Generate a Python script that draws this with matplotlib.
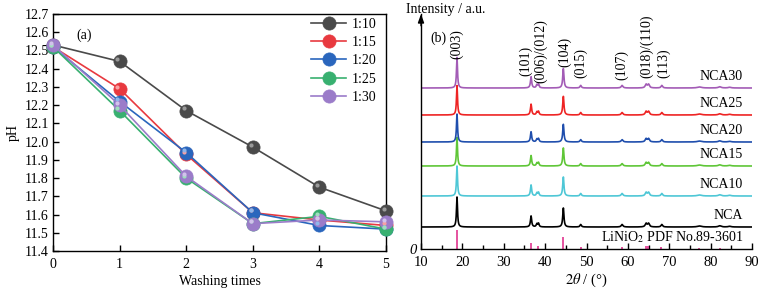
import numpy as np
import matplotlib
matplotlib.use("Agg")
import matplotlib.pyplot as plt
from matplotlib.transforms import ScaledTranslation

plt.rcParams['font.family'] = ['Liberation Serif', 'DejaVu Serif']
plt.rcParams['mathtext.fontset'] = 'stix'

# ---------------- data: panel (a) ----------------
washing_times = [0, 1, 2, 3, 4, 5]
ratio_labels = ['1:10', '1:15', '1:20', '1:25', '1:30']
ph_1_10 = [12.53, 12.44, 12.17, 11.97, 11.75, 11.62]
ph_1_15 = [12.52, 12.29, 11.93, 11.61, 11.57, 11.54]
ph_1_20 = [12.52, 12.22, 11.94, 11.61, 11.54, 11.52]
ph_1_25 = [12.52, 12.17, 11.80, 11.55, 11.59, 11.52]
ph_1_30 = [12.53, 12.20, 11.81, 11.55, 11.57, 11.56]
ratio_colors = ['#4a4a4a', '#e8393f', '#2a66bd', '#38b070', '#9b7cc9']
ratio_light = ['#9a9a9a', '#f8a0a2', '#8fb6ea', '#9de0bc', '#d2c2ec']

# ---------------- data: panel (b) ----------------
sample_names = ['NCA', 'NCA10', 'NCA15', 'NCA20', 'NCA25', 'NCA30']
sample_offsets = [22, 53, 83, 107, 134, 161]
sample_scale = [1.0, 1.0, 0.95, 0.93, 0.98, 1.02]
sample_colors = ['#000000', '#4ec7d6', '#5fc637', '#1f4ead', '#ee2424', '#a35cb6']
peak_pos = [18.7, 36.6, 38.0, 38.4, 44.4, 48.6, 58.6, 64.4, 65.0, 68.2, 77.3, 82.2, 84.6]
peak_height = [30, 11, 3, 3.5, 19, 2.5, 2.5, 3.5, 3.5, 2.5, 1.0, 1.2, 0.7]
peak_fwhm = [0.3, 0.35, 0.35, 0.35, 0.35, 0.4, 0.5, 0.5, 0.5, 0.45, 1.2, 0.8, 0.8]
ref_pos = [18.7, 36.6, 38.2, 44.4, 48.6, 58.6, 64.4, 64.8, 68.0, 77.3, 82.2]
ref_height = [19, 6, 3, 12, 2, 2, 3, 3, 2, 1, 1.5]
hkl_labels = ['(003)', '(101)', '(006)/(012)', '(104)', '(015)', '(107)', '(018)/(110)', '(113)']
hkl_x = [18.7, 35.4, 39.0, 44.6, 48.7, 58.6, 64.6, 68.7]
hkl_y = [190, 173, 166, 182, 171, 169, 171, 171]

FS = 9.5
FT = 10.5
W, H = 768, 290
fig = plt.figure(figsize=(W / 100, H / 100), dpi=100)

# ================= panel (a) =================
ax1 = fig.add_axes([53 / W, (H - 251) / H, (386 - 53) / W, (251 - 14) / H])
series = [ph_1_10, ph_1_15, ph_1_20, ph_1_25, ph_1_30]
hl = ax1.transData + ScaledTranslation(-1.6 / 72, 1.6 / 72, fig.dpi_scale_trans)
for vals, lab, c, lc in zip(series, ratio_labels, ratio_colors, ratio_light):
    ax1.plot(washing_times, vals, '-', color=c, lw=1.2, marker='o', ms=9.5,
             mfc=c, mec=c, mew=0.5, label=lab, clip_on=False, zorder=3)
    ax1.plot(washing_times, vals, 'o', ms=3, mfc=lc, mec='none',
             transform=hl, clip_on=False, zorder=4)
ax1.set_xlim(0, 5)
ax1.set_ylim(11.4, 12.7)
ax1.set_xticks(washing_times)
ax1.set_yticks(np.arange(11.4, 12.71, 0.1))
ax1.set_yticklabels([f'{v:.1f}' for v in np.arange(11.4, 12.71, 0.1)])
ax1.tick_params(direction='in', length=4, width=1, labelsize=10)
ax1.tick_params(axis='x', pad=5)
ax1.tick_params(axis='y', pad=3)
for s in ax1.spines.values():
    s.set_linewidth(1.0)
ax1.set_xlabel('Washing times', fontsize=10, labelpad=3)
ax1.set_ylabel('pH', fontsize=10, labelpad=3)
ax1.text(0.07, 0.895, '(a)', transform=ax1.transAxes, fontsize=10)
leg = ax1.legend(loc='upper right', bbox_to_anchor=(1.0, 1.025), frameon=False,
                 fontsize=10, handlelength=2.5, labelspacing=0.38,
                 handletextpad=0.4, borderaxespad=0.3)

# ================= panel (b) =================
ax2 = fig.add_axes([421 / W, (H - 249) / H, (752 - 421) / W, (249 - 14) / H])
x = np.arange(10, 90.001, 0.02)
for name, off, sc, col in zip(sample_names, sample_offsets, sample_scale, sample_colors):
    y = np.full_like(x, float(off))
    for p, h, w in zip(peak_pos, peak_height, peak_fwhm):
        g = (w / 2) ** 2
        y += sc * h * g / ((x - p) ** 2 + g)
    ax2.plot(x, y, color=col, lw=1.2)
    ax2.text(87.8, off + 5, name, ha='right', va='bottom', fontsize=FS + 0.5)
ax2.vlines(ref_pos, 0, ref_height, color='#e0358f', lw=1.2)
ax2.text(87.8, 4, 'LiNiO$_2$ PDF No.89-3601', ha='right', va='bottom', fontsize=FS + 0.5)
for lab, hx, hy in zip(hkl_labels, hkl_x, hkl_y):
    ax2.text(hx, hy, lab, rotation=90, ha='center', va='bottom', fontsize=FS + 0.5)
ax2.set_xlim(10, 90)
ax2.set_ylim(0, 235)
ax2.spines['top'].set_visible(False)
ax2.spines['right'].set_visible(False)
ax2.spines['left'].set_linewidth(1.0)
ax2.spines['bottom'].set_linewidth(1.0)
ax2.set_xticks(np.arange(10, 91, 10))
ax2.set_xticks(np.arange(15, 90, 10), minor=True)
ax2.tick_params(axis='x', which='both', direction='in', width=1, labelsize=FT, pad=5)
ax2.tick_params(axis='x', which='major', length=4)
ax2.tick_params(axis='x', which='minor', length=3)
ax2.set_yticks([0])
ax2.set_yticklabels(['0'], fontstyle='italic', fontsize=FT)
ax2.tick_params(axis='y', length=0, pad=3)
ax2.set_xlabel(r'$2\theta$ / (°)', fontsize=FT, labelpad=2)
ax2.annotate('', xy=(0, 1.0), xycoords='axes fraction', xytext=(0, 0.95),
             arrowprops=dict(arrowstyle='-|>,head_length=0.5,head_width=0.18',
                             color='black', lw=1.0, shrinkA=0, shrinkB=0))
ax2.text(0.028, 0.88, '(b)', transform=ax2.transAxes, fontsize=10)
fig.text(406 / W, 1 - 9 / H, 'Intensity / a.u.', fontsize=10, ha='left', va='center')

fig.savefig('out.png', dpi=100)
